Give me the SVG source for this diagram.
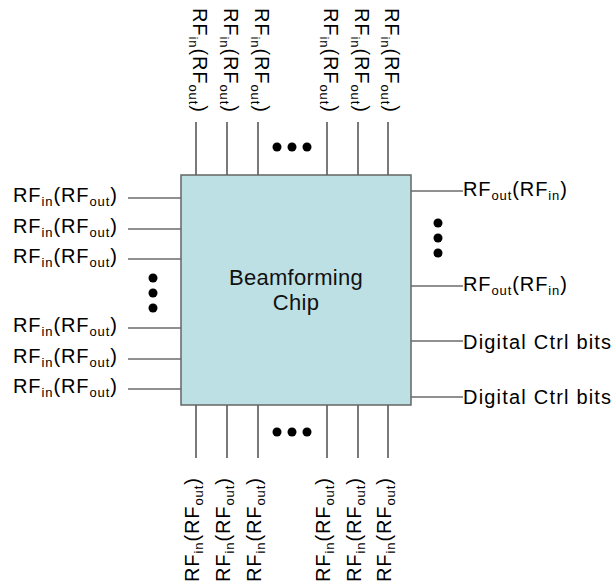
<svg xmlns="http://www.w3.org/2000/svg" width="615" height="586" viewBox="0 0 615 586">
<style>
.lbl{font-family:"Liberation Sans",Arial,sans-serif;font-size:20px;fill:#000;letter-spacing:0.9px}
.dg{letter-spacing:1.2px}
.sub{font-size:13px}
.chip{font-family:"Liberation Sans",Arial,sans-serif;font-size:22px;fill:#111;text-anchor:middle;letter-spacing:0.3px}
.pin{stroke:#222;stroke-width:1.2;fill:none}
.dot{fill:#000}
</style>
<defs>
<text id="rfin" class="lbl">RF<tspan class="sub" dy="4">in</tspan><tspan dy="-4">(RF</tspan><tspan class="sub" dy="4">out</tspan><tspan dy="-4">)</tspan></text>
<text id="rfout" class="lbl">RF<tspan class="sub" dy="4">out</tspan><tspan dy="-4">(RF</tspan><tspan class="sub" dy="4">in</tspan><tspan dy="-4">)</tspan></text>
</defs>
<g id="connectors">
<path class="pin" d="M196,122V175M227,122V175M258,122V175M327,122V175M358,122V175M388,122V175"/>
<path class="pin" d="M196,405V458M227,405V458M258,405V458M327,405V458M358,405V458M388,405V458"/>
<path class="pin" d="M128,198H181M128,229H181M128,259H181M128,328H181M128,359H181M128,389H181"/>
<path class="pin" d="M411,191H463M411,286H463M411,341H463M411,397H463"/>
</g>
<g id="chip">
<rect x="181" y="175" width="230" height="230" fill="#bce0e3" stroke="#666" stroke-width="1.5"/>
<text class="chip" x="296" y="285">Beamforming</text>
<text class="chip" x="296" y="310">Chip</text>
</g>
<g id="top-labels">
<use href="#rfin" transform="translate(193,8) rotate(90)"/>
<use href="#rfin" transform="translate(224,8) rotate(90)"/>
<use href="#rfin" transform="translate(255,8) rotate(90)"/>
<use href="#rfin" transform="translate(324,8) rotate(90)"/>
<use href="#rfin" transform="translate(355,8) rotate(90)"/>
<use href="#rfin" transform="translate(385,8) rotate(90)"/>
<circle class="dot" cx="277" cy="147" r="4.5"/><circle class="dot" cx="292" cy="147" r="4.5"/><circle class="dot" cx="307" cy="147" r="4.5"/>
</g>
<g id="bottom-labels">
<use href="#rfin" transform="translate(199,582) rotate(-90)"/>
<use href="#rfin" transform="translate(230,582) rotate(-90)"/>
<use href="#rfin" transform="translate(261,582) rotate(-90)"/>
<use href="#rfin" transform="translate(330,582) rotate(-90)"/>
<use href="#rfin" transform="translate(361,582) rotate(-90)"/>
<use href="#rfin" transform="translate(391,582) rotate(-90)"/>
<circle class="dot" cx="277" cy="432" r="4.5"/><circle class="dot" cx="292" cy="432" r="4.5"/><circle class="dot" cx="307" cy="432" r="4.5"/>
</g>
<g id="left-labels">
<use href="#rfin" x="13" y="202"/>
<use href="#rfin" x="13" y="233"/>
<use href="#rfin" x="13" y="263"/>
<use href="#rfin" x="13" y="332"/>
<use href="#rfin" x="13" y="363"/>
<use href="#rfin" x="13" y="393"/>
<circle class="dot" cx="153" cy="278" r="4.5"/><circle class="dot" cx="153" cy="293" r="4.5"/><circle class="dot" cx="153" cy="308" r="4.5"/>
</g>
<g id="right-labels">
<use href="#rfout" x="463" y="196"/>
<use href="#rfout" x="463" y="291"/>
<text class="lbl dg" x="463" y="349">Digital Ctrl bits</text>
<text class="lbl dg" x="463" y="404">Digital Ctrl bits</text>
<circle class="dot" cx="438" cy="223" r="4.5"/><circle class="dot" cx="438" cy="238" r="4.5"/><circle class="dot" cx="438" cy="253" r="4.5"/>
</g>
</svg>
